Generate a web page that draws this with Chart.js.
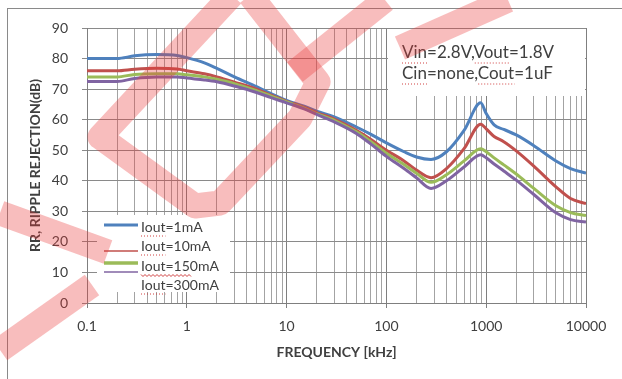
<!DOCTYPE html>
<html>
<head>
<meta charset="utf-8">
<script src="https://cdn.jsdelivr.net/npm/chart.js@4.4.1/dist/chart.umd.min.js"></script>
<style>
  html, body { margin:0; padding:0; background:#fff; }
  #wrap { position:relative; width:622px; height:379px; overflow:hidden; }
  #frame { position:absolute; left:7px; top:8px; width:700px; height:500px;
           border-left:1px solid #8a8a8a; border-top:1px solid #8a8a8a; }
  canvas { position:absolute; left:0; top:0; }
</style>
</head>
<body>
<div id="wrap"><div id="frame"></div><canvas id="chart" width="622" height="379"></canvas></div>
<script>
// frequency points in kHz (shared by all curves)
const freq    = [0.1, 0.2, 0.3, 0.5, 0.8, 1, 1.5, 2, 3, 5, 7, 10, 15, 20, 30, 50, 70, 100, 150, 200, 280, 400, 600, 880, 1000, 1200, 1500, 2000, 3000, 5000, 7000, 10000];
// ripple rejection in dB
const iout1   = [80, 80, 80.9, 81.3, 81, 80.3, 78.6, 76.8, 74, 70.8, 68.5, 66.3, 64.4, 62.8, 60.9, 57.6, 55.2, 52.4, 49.5, 47.8, 47, 49.5, 56.5, 65.5, 62, 58.3, 56.8, 55, 51.5, 46.5, 44, 42.5];
const iout10  = [76, 76, 76.5, 76.8, 76.6, 76, 75, 74, 72.3, 70, 68, 66, 64, 62.3, 60.2, 56.5, 53.5, 50, 46.5, 43.5, 41, 44, 50.5, 58.5, 57, 54.5, 52.8, 49.8, 44.8, 38, 34.2, 32.5];
const iout150 = [74, 74, 74.8, 75, 75, 74.7, 74, 73.2, 71.8, 69.5, 67.7, 65.8, 63.8, 62, 59.8, 56, 52.8, 49, 45.3, 42.5, 39.5, 42, 46.5, 50.5, 49.5, 47.5, 45.2, 42.2, 37.5, 31.8, 29.6, 28.6];
const iout300 = [72.5, 72.5, 73.5, 74, 74, 73.6, 73, 72.4, 71, 68.9, 67.2, 65.5, 63.5, 61.7, 59.3, 55.5, 52, 48, 44, 41, 37.5, 40, 44.5, 48.5, 47.5, 45.5, 43.2, 40.2, 35.5, 29.5, 27.3, 26.5];

const seriesNames  = ['Iout=1mA', 'Iout=10mA', 'Iout=150mA', 'Iout=300mA'];
const seriesColors = ['#4F81BD', '#C0504D', '#9BBB59', '#8064A2'];
const xTickValues  = [0.1, 1, 10, 100, 1000, 10000];
const xTickLabels  = ['0.1', '1', '10', '100', '1000', '10000'];
const noteLines    = ['Vin=2.8V,Vout=1.8V', 'Cin=none,Cout=1uF'];

const FONT = 'Lato, "Liberation Sans", sans-serif';
const TXT = '#404040';

function isMajor(v){ return xTickValues.some(t => Math.abs(t - v) / t < 1e-6); }

// every 1..9 x decade gridline position
const xGrid = [];
xTickValues.forEach((d, i) => {
  for (let m = 1; m <= 9; m++) {
    if (i === xTickValues.length - 1 && m > 1) break;
    xGrid.push(+(d * m).toPrecision(6));
  }
});

function wavy(ctx, x0, x1, y){
  ctx.beginPath();
  for (let x = x0, k = 0; x <= x1; x += 2, k++) {
    const yy = y + (k % 2 ? 1.5 : -0.5);
    k === 0 ? ctx.moveTo(x, yy) : ctx.lineTo(x, yy);
  }
  ctx.stroke();
}
function dotted(ctx, x0, x1, y){
  ctx.save();
  ctx.setLineDash([1, 2]);
  ctx.beginPath(); ctx.moveTo(x0, y); ctx.lineTo(x1, y); ctx.stroke();
  ctx.restore();
}

// ---------------- legend box (bottom-left, inside plot) ----------------
const legendBox = {
  id: 'legendBox',
  afterDatasetsDraw(chart){
    const {ctx, chartArea: a} = chart;
    const x0 = a.left + 10, y0 = a.bottom - 88;
    ctx.save();
    ctx.fillStyle = '#fff';
    ctx.fillRect(x0, y0, 133, 77);
    // line offset, line width, text offset for each entry
    const rows = [[10, 3, 12], [36, 1.5, 31], [48, 3.5, 51], [57, 1.5, 70]];
    ctx.font = '14px ' + FONT;
    ctx.textBaseline = 'middle';
    chart.data.datasets.forEach((ds, i) => {
      const [ly, lw, ty] = rows[i];
      ctx.strokeStyle = ds.borderColor;
      ctx.lineWidth = lw;
      ctx.beginPath(); ctx.moveTo(x0 + 7, y0 + ly); ctx.lineTo(x0 + 41, y0 + ly); ctx.stroke();
      ctx.fillStyle = TXT;
      ctx.fillText(ds.label, x0 + 44, y0 + ty);
      const w = ctx.measureText('Iout').width;
      ctx.strokeStyle = '#d04040'; ctx.lineWidth = 1;
      if (i === 2) wavy(ctx, x0 + 44, x0 + 44 + w + 26, y0 + ty + 9);
      else dotted(ctx, x0 + 44, x0 + 44 + w, y0 + ty + 9);
    });
    ctx.restore();
  }
};

// ---------------- condition note (top-right) ----------------
const noteBox = {
  id: 'noteBox',
  afterDatasetsDraw(chart){
    const {ctx, chartArea: a} = chart;
    const x0 = a.left + 301, y0 = a.top;
    ctx.save();
    ctx.fillStyle = '#fff';
    ctx.fillRect(x0, y0 + 1, a.right - x0 - 1, 67);
    ctx.font = '17px ' + FONT;
    ctx.textBaseline = 'middle';
    ctx.strokeStyle = '#d04040'; ctx.lineWidth = 1;
    noteLines.forEach((t, i) => {
      const ty = y0 + 25 + i * 21;
      ctx.fillStyle = TXT;
      ctx.fillText(t, x0 + 14, ty);
      const parts = t.split(',');
      let off = 0;
      parts.forEach(p => {
        const name = p.split('=')[0];
        dotted(ctx, x0 + 14 + off, x0 + 14 + off + ctx.measureText(name).width, ty + 10);
        off += ctx.measureText(p + ',').width;
      });
    });
    ctx.restore();
  }
};

// ---------------- faint red watermark strokes ----------------
const watermark = {
  id: 'watermark',
  afterDraw(chart){
    const ctx = chart.ctx;
    const strokes = [
      [[0, 213], [108, 252]],
      [[0, 350], [92, 285]],
      [[232, -5], [100, 137], [195, 206], [220, 203], [300, 118], [318, 82], [250, -5]],
      [[295, 72], [385, 0]],
      [[400, 48], [508, 0]]
    ];
    ctx.save();
    ctx.strokeStyle = 'rgba(235,55,55,0.33)';
    ctx.lineWidth = 25;
    ctx.lineJoin = 'round';
    strokes.forEach(s => {
      ctx.beginPath();
      s.forEach(([x, y], i) => i ? ctx.lineTo(x, y) : ctx.moveTo(x, y));
      ctx.stroke();
    });
    ctx.restore();
  }
};

const curves = [iout1, iout10, iout150, iout300];

new Chart(document.getElementById('chart'), {
  type: 'line',
  data: {
    datasets: curves.map((vals, i) => ({
      label: seriesNames[i],
      data: freq.map((f, j) => ({x: f, y: vals[j]})),
      borderColor: seriesColors[i],
      borderWidth: 3,
      pointRadius: 0,
      cubicInterpolationMode: 'monotone',
      fill: false,
      order: curves.length - i
    }))
  },
  options: {
    responsive: false,
    animation: false,
    devicePixelRatio: 1,
    layout: { padding: { left: 27, top: 28, right: 36, bottom: 18 } },
    plugins: { legend: { display: false }, tooltip: { enabled: false } },
    scales: {
      x: {
        type: 'logarithmic',
        min: 0.1, max: 10000,
        afterBuildTicks: s => { s.ticks = xGrid.map(v => ({value: v})); },
        afterFit: s => { s.height = 58; },
        ticks: {
          autoSkip: false, maxRotation: 0, padding: 10,
          color: TXT, font: { family: FONT, size: 14 },
          callback: v => { const k = xTickValues.findIndex(t => Math.abs(t - v) / t < 1e-6); return k < 0 ? '' : xTickLabels[k]; }
        },
        grid: {
          color: c => (c.tick && isMajor(c.tick.value)) ? '#7f7f7f' : '#a3a3a3',
          tickColor: c => (c.tick && isMajor(c.tick.value)) ? '#7f7f7f' : 'rgba(0,0,0,0)',
          tickLength: 5
        },
        border: { color: '#7f7f7f' },
        title: { display: true, text: 'FREQUENCY [kHz]', color: TXT, padding: 0,
                 font: { family: FONT, size: 14, weight: 'bold' } }
      },
      y: {
        min: 0, max: 90,
        afterFit: s => { s.width = 60; },
        ticks: { stepSize: 10, padding: 14, color: TXT, font: { family: FONT, size: 14 } },
        grid: { color: '#8a8a8a', tickColor: '#8a8a8a', tickLength: 5 },
        border: { color: '#7f7f7f' },
        title: { display: true, text: 'RR, RIPPLE REJECTION(dB)', color: TXT, padding: 0,
                 font: { family: FONT, size: 14, weight: 'bold' } }
      }
    }
  },
  plugins: [legendBox, noteBox, watermark]
});
</script>
</body>
</html>
